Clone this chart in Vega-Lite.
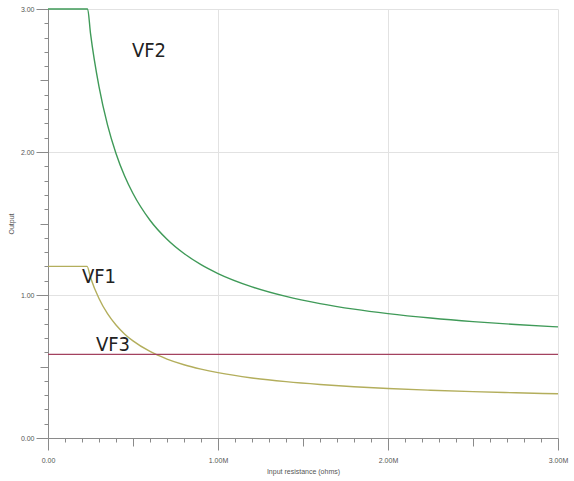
{
  "$schema": "https://vega.github.io/schema/vega-lite/v6.json",
  "width": 510,
  "height": 429,
  "autosize": {"type": "none"},
  "padding": {"left": 48, "top": 9, "right": 16, "bottom": 43},
  "background": "white",
  "config": {
    "view": {"stroke": null},
    "axis": {
      "domainColor": "#8a8a8a",
      "tickColor": "#8a8a8a",
      "labelColor": "#555555",
      "labelFont": "Liberation Sans",
      "labelFontSize": 7,
      "titleFont": "Liberation Sans",
      "titleFontSize": 7,
      "titleFontWeight": "normal",
      "titleColor": "#555555",
      "gridColor": "#e2e2e2"
    }
  },
  "datasets": {
    "curves": [
      {"series": "VF2", "R": 0, "V": 3.0},
      {"series": "VF2", "R": 0.233, "V": 3.0},
      {"series": "VF2", "R": 0.25, "V": 2.83},
      {"series": "VF2", "R": 0.3, "V": 2.457},
      {"series": "VF2", "R": 0.35, "V": 2.19},
      {"series": "VF2", "R": 0.4, "V": 1.99},
      {"series": "VF2", "R": 0.45, "V": 1.834},
      {"series": "VF2", "R": 0.5, "V": 1.71},
      {"series": "VF2", "R": 0.6, "V": 1.523},
      {"series": "VF2", "R": 0.7, "V": 1.39},
      {"series": "VF2", "R": 0.8, "V": 1.29},
      {"series": "VF2", "R": 0.9, "V": 1.212},
      {"series": "VF2", "R": 1.0, "V": 1.15},
      {"series": "VF2", "R": 1.2, "V": 1.057},
      {"series": "VF2", "R": 1.4, "V": 0.99},
      {"series": "VF2", "R": 1.6, "V": 0.94},
      {"series": "VF2", "R": 1.8, "V": 0.901},
      {"series": "VF2", "R": 2.0, "V": 0.87},
      {"series": "VF2", "R": 2.25, "V": 0.839},
      {"series": "VF2", "R": 2.5, "V": 0.814},
      {"series": "VF2", "R": 2.75, "V": 0.794},
      {"series": "VF2", "R": 3.0, "V": 0.777},
      {"series": "VF1", "R": 0, "V": 1.2},
      {"series": "VF1", "R": 0.23, "V": 1.2},
      {"series": "VF1", "R": 0.25, "V": 1.123},
      {"series": "VF1", "R": 0.3, "V": 0.975},
      {"series": "VF1", "R": 0.35, "V": 0.869},
      {"series": "VF1", "R": 0.4, "V": 0.79},
      {"series": "VF1", "R": 0.45, "V": 0.728},
      {"series": "VF1", "R": 0.5, "V": 0.679},
      {"series": "VF1", "R": 0.6, "V": 0.605},
      {"series": "VF1", "R": 0.7, "V": 0.552},
      {"series": "VF1", "R": 0.8, "V": 0.5125},
      {"series": "VF1", "R": 0.9, "V": 0.482},
      {"series": "VF1", "R": 1.0, "V": 0.457},
      {"series": "VF1", "R": 1.2, "V": 0.42},
      {"series": "VF1", "R": 1.4, "V": 0.394},
      {"series": "VF1", "R": 1.6, "V": 0.374},
      {"series": "VF1", "R": 1.8, "V": 0.358},
      {"series": "VF1", "R": 2.0, "V": 0.346},
      {"series": "VF1", "R": 2.25, "V": 0.334},
      {"series": "VF1", "R": 2.5, "V": 0.324},
      {"series": "VF1", "R": 2.75, "V": 0.316},
      {"series": "VF1", "R": 3.0, "V": 0.309},
      {"series": "VF3", "R": 0, "V": 0.585},
      {"series": "VF3", "R": 3.0, "V": 0.585}
    ],
    "labels": [
      {"text": "VF2", "R": 0.594, "V": 2.706},
      {"text": "VF1", "R": 0.30, "V": 1.126},
      {"text": "VF3", "R": 0.382, "V": 0.65}
    ]
  },
  "layer": [
    {
      "data": {"name": "curves"},
      "mark": {"type": "line", "strokeWidth": 1.4, "interpolate": "monotone"},
      "encoding": {
        "x": {
          "field": "R", "type": "quantitative",
          "scale": {"domain": [0, 3], "nice": false, "zero": false},
          "axis": {
            "title": "Input resistance (ohms)",
            "titlePadding": 4,
            "tickCount": 100,
            "values": [0,0.1,0.2,0.3,0.4,0.5,0.6,0.7,0.8,0.9,1,1.1,1.2,1.3,1.4,1.5,1.6,1.7,1.8,1.9,2,2.1,2.2,2.3,2.4,2.5,2.6,2.7,2.8,2.9,3],
            "labelExpr": "datum.value === 0 ? '0.00' : (datum.value % 1 === 0 ? format(datum.value, '.2f') + 'M' : '')",
            "labelPadding": 6,
            "labelOverlap": false,
            "labelFlush": false,
            "tickSize": {"condition": [
              {"test": "datum.value % 1 === 0", "value": 12},
              {"test": "abs(datum.value * 2 - round(datum.value * 2)) < 1e-9", "value": 8}
            ], "value": 4},
            "grid": true,
            "gridOpacity": {"condition": {"test": "datum.value % 1 === 0", "value": 1}, "value": 0}
          }
        },
        "y": {
          "field": "V", "type": "quantitative",
          "scale": {"domain": [0, 3], "nice": false},
          "axis": {
            "title": "Output",
            "titlePadding": 6,
            "tickCount": 100,
            "values": [0,0.1,0.2,0.3,0.4,0.5,0.6,0.7,0.8,0.9,1,1.1,1.2,1.3,1.4,1.5,1.6,1.7,1.8,1.9,2,2.1,2.2,2.3,2.4,2.5,2.6,2.7,2.8,2.9,3],
            "labelExpr": "datum.value % 1 === 0 ? format(datum.value, '.2f') : ''",
            "labelPadding": 2,
            "labelOverlap": false,
            "labelFlush": false,
            "tickSize": {"condition": [
              {"test": "datum.value % 1 === 0", "value": 12},
              {"test": "abs(datum.value * 2 - round(datum.value * 2)) < 1e-9", "value": 8}
            ], "value": 4},
            "grid": true,
            "gridOpacity": {"condition": {"test": "datum.value % 1 === 0", "value": 1}, "value": 0}
          }
        },
        "color": {
          "field": "series", "type": "nominal",
          "scale": {"domain": ["VF1", "VF2", "VF3"], "range": ["#b3ae5c", "#3f9a58", "#a3425f"]},
          "legend": null
        },
        "detail": {"field": "series"}
      }
    },
    {
      "data": {"name": "labels"},
      "mark": {"type": "text", "font": "DejaVu Sans Condensed, Liberation Sans", "fontSize": 20, "color": "#222222", "align": "center", "baseline": "middle"},
      "encoding": {
        "x": {"field": "R", "type": "quantitative"},
        "y": {"field": "V", "type": "quantitative"},
        "text": {"field": "text"}
      }
    }
  ]
}
